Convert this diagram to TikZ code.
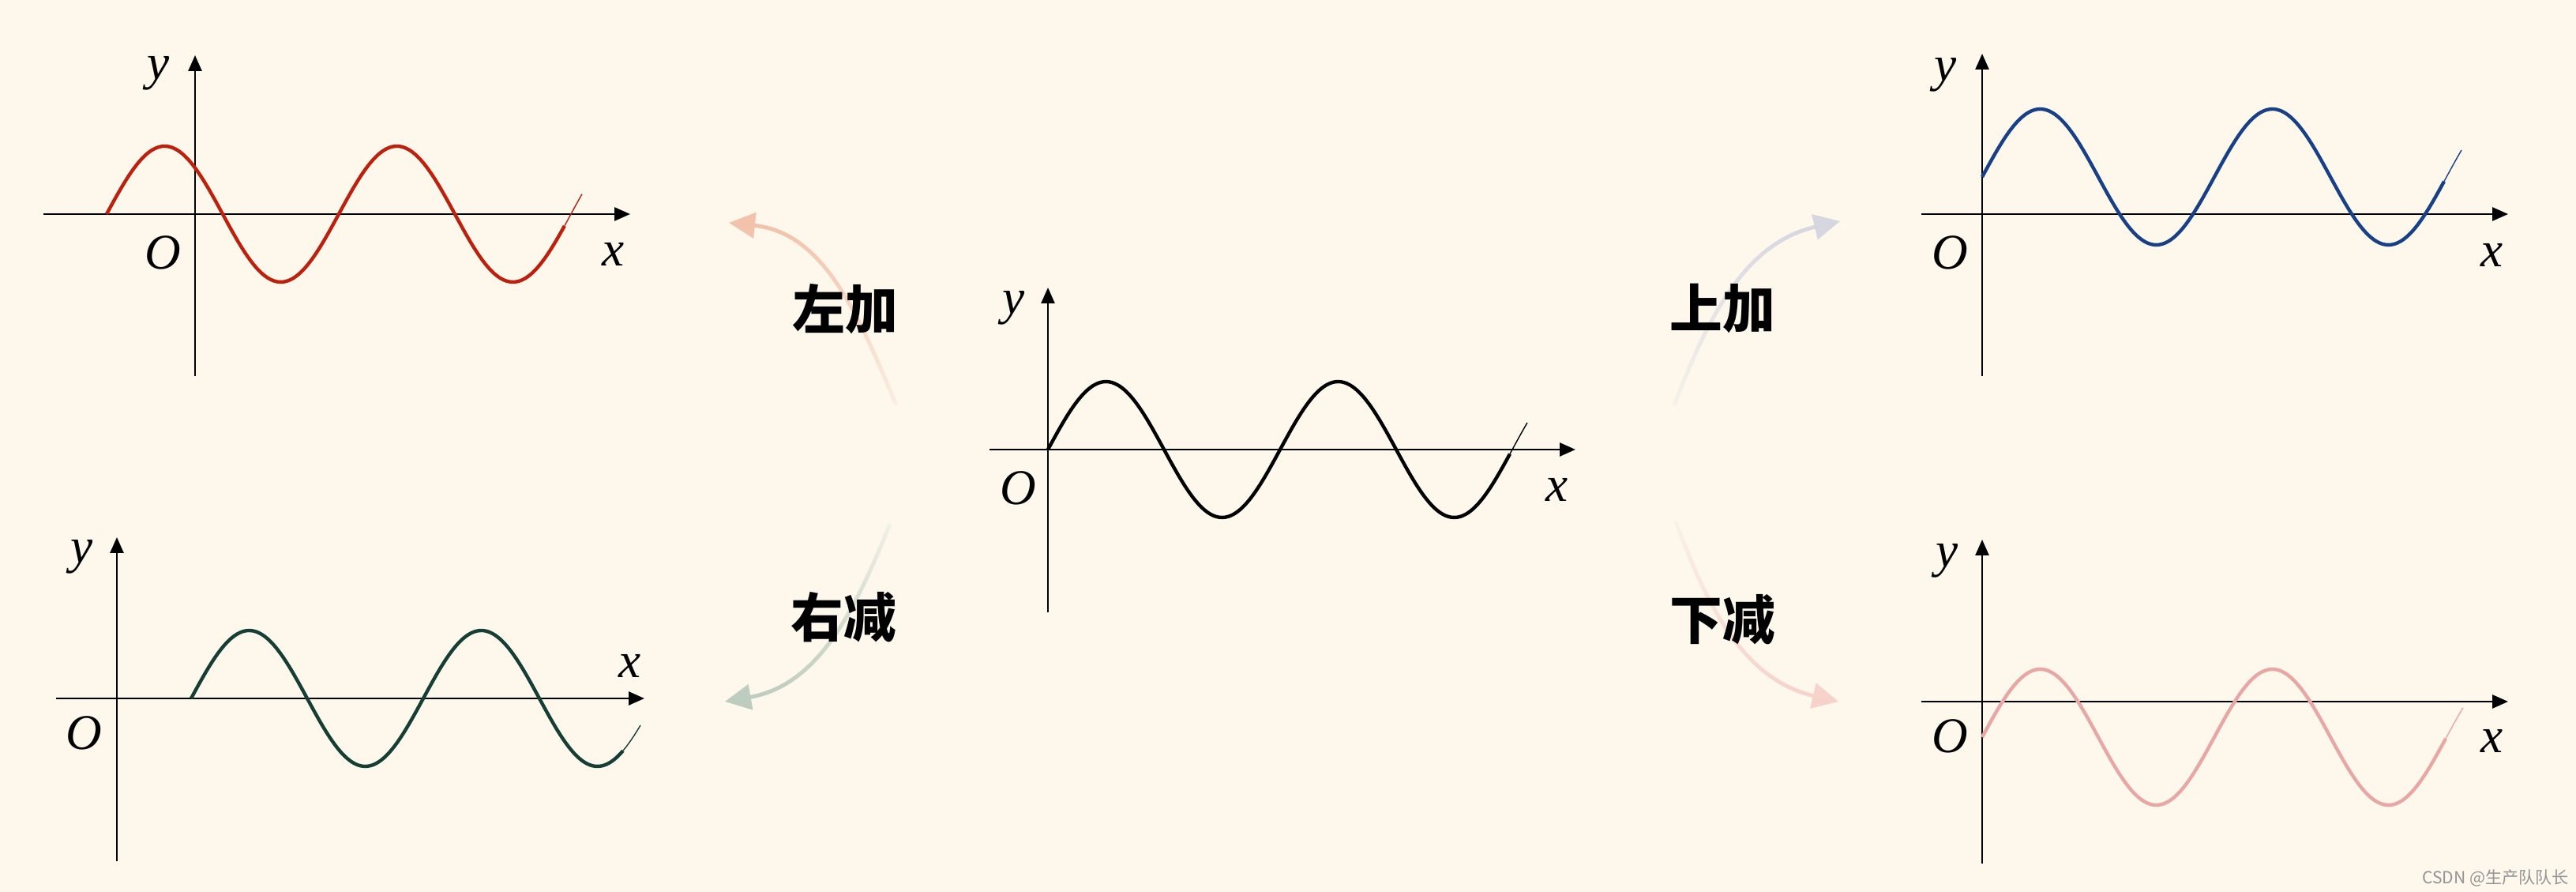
\documentclass[tikz,border=0pt]{standalone}
\usepackage{fontspec}
\setmainfont{Liberation Serif}
\newfontfamily\cjkfont{Noto Sans CJK SC}
\usetikzlibrary{arrows.meta,fadings}

\definecolor{paper}{RGB}{253,247,236}
\definecolor{leftred}{RGB}{190,32,14}
\definecolor{rightgreen}{RGB}{22,62,52}
\definecolor{upblue}{RGB}{24,64,134}
\definecolor{downpink}{RGB}{232,166,164}
\definecolor{arrLeft}{RGB}{242,194,170}
\definecolor{arrRight}{RGB}{188,204,190}
\definecolor{arrUp}{RGB}{214,214,224}
\definecolor{arrDown}{RGB}{246,210,202}

\tikzfading[name=fadeup, top color=transparent!0, bottom color=transparent!85]
\tikzfading[name=fadedown, top color=transparent!85, bottom color=transparent!0]

\begin{document}
\begin{tikzpicture}[
  axis/.style={line width=0.75pt,-{Triangle[length=0.2cm,width=0.17cm]}},
  wave/.style={line width=1.25pt,samples=160,smooth},
  tail/.style={line width=0.4pt,samples=20,smooth},
  var/.style={font=\fontsize{18}{20}\selectfont\itshape,inner sep=0pt},
  rule/.style={font=\cjkfont\bfseries\fontsize{19}{21}\selectfont,inner sep=0pt},
  turn/.style={line width=1.4pt,-{Triangle[length=0.33cm,width=0.32cm]}}
]
\useasboundingbox (0,0) rectangle (32.62,11.29);
\fill[paper] (0,0) rectangle (32.62,11.29);

% middle: y = sin x
\begin{scope}[shift={(13.27,5.60)}]
\coordinate (o0) at (0,0);
\draw[axis] (-0.74,0) -- (6.68,0);
\draw[axis] (0,-2.06) -- (0,2.05);
\draw[wave] plot[domain=0:5.85] (\x,{0.86*sin(360*\x/2.94)});
\draw[tail] plot[domain=5.85:6.07] (\x,{0.86*sin(360*\x/2.94)});
\node[var] (y0) at (-0.43,1.79) {y};
\node[var] (O0) at (-0.38,-0.49) {O};
\node[var] (x0) at (6.45,-0.51) {x};
\end{scope}

% left shift
\begin{scope}[shift={(2.47,8.58)}]
\coordinate (o1) at (0,0);
\draw[axis] (-1.92,0) -- (5.51,0);
\draw[axis] (0,-2.05) -- (0,2.01);
\draw[wave,leftred] plot[domain=-1.12:4.68] (\x,{0.86*sin(360*(\x+1.12)/2.94)});
\draw[tail,leftred] plot[domain=4.68:4.90] (\x,{0.86*sin(360*(\x+1.12)/2.94)});
\node[var] (y1) at (-0.46,1.78) {y};
\node[var] (O1) at (-0.41,-0.49) {O};
\node[var] (x1) at (5.30,-0.51) {x};
\end{scope}

% right shift
\begin{scope}[shift={(1.48,2.45)}]
\coordinate (o2) at (0,0);
\draw[axis] (-0.77,0) -- (6.68,0);
\draw[axis] (0,-2.06) -- (0,2.04);
\draw[wave,rightgreen] plot[domain=0.94:6.41] (\x,{0.86*sin(360*(\x-0.94)/2.94)});
\draw[tail,rightgreen] plot[domain=6.41:6.63] (\x,{0.86*sin(360*(\x-0.94)/2.94)});
\node[var] (y2) at (-0.44,1.79) {y};
\node[var] (O2) at (-0.42,-0.44) {O};
\node[var] (x2) at (6.50,0.41) {x};
\end{scope}

% up shift
\begin{scope}[shift={(25.10,8.58)}]
\coordinate (o3) at (0,0);
\draw[axis] (-0.77,0) -- (6.66,0);
\draw[axis] (0,-2.05) -- (0,2.03);
\draw[wave,upblue] plot[domain=0:5.85] (\x,{0.47+0.86*sin(360*\x/2.94)});
\draw[tail,upblue] plot[domain=5.85:6.07] (\x,{0.47+0.86*sin(360*\x/2.94)});
\node[var] (y3) at (-0.46,1.76) {y};
\node[var] (O3) at (-0.41,-0.49) {O};
\node[var] (x3) at (6.45,-0.52) {x};
\end{scope}

% down shift
\begin{scope}[shift={(25.10,2.41)}]
\coordinate (o4) at (0,0);
\draw[axis] (-0.77,0) -- (6.66,0);
\draw[axis] (0,-2.05) -- (0,2.05);
\draw[wave,downpink] plot[domain=0:5.87] (\x,{-0.45+0.86*sin(360*\x/2.94)});
\draw[tail,downpink] plot[domain=5.87:6.09] (\x,{-0.45+0.86*sin(360*\x/2.94)});
\node[var] (y4) at (-0.44,1.78) {y};
\node[var] (O4) at (-0.41,-0.44) {O};
\node[var] (x4) at (6.45,-0.50) {x};
\end{scope}

% bent arrows and rules
\coordinate (a1s) at (11.35,6.16);
\coordinate (a1e) at (9.23,8.47);
\coordinate (a2s) at (11.27,4.66);
\coordinate (a2e) at (9.18,2.41);
\coordinate (a3s) at (21.20,6.16);
\coordinate (a3e) at (23.30,8.49);
\coordinate (a4s) at (21.22,4.69);
\coordinate (a4e) at (23.28,2.41);
\draw[turn,arrLeft,path fading=fadeup] (a1s) to[out=113,in=-6] (a1e);
\draw[turn,arrRight,path fading=fadedown] (a2s) to[out=248,in=10] (a2e);
\draw[turn,arrUp,path fading=fadeup] (a3s) to[out=69,in=193] (a3e);
\draw[turn,arrDown,path fading=fadedown] (a4s) to[out=-70,in=167] (a4e);
\node[rule] (lplus) at (10.70,7.38) {左加};
\node[rule] (rminus) at (10.68,3.48) {右减};
\node[rule] (uplus) at (21.81,7.38) {上加};
\node[rule] (dminus) at (21.81,3.45) {下减};

\node[font=\cjkfont\fontsize{6}{7}\selectfont,text=black!42,inner sep=0pt] (mark) at (31.60,0.18) {CSDN @生产队队长};
\end{tikzpicture}
\end{document}
